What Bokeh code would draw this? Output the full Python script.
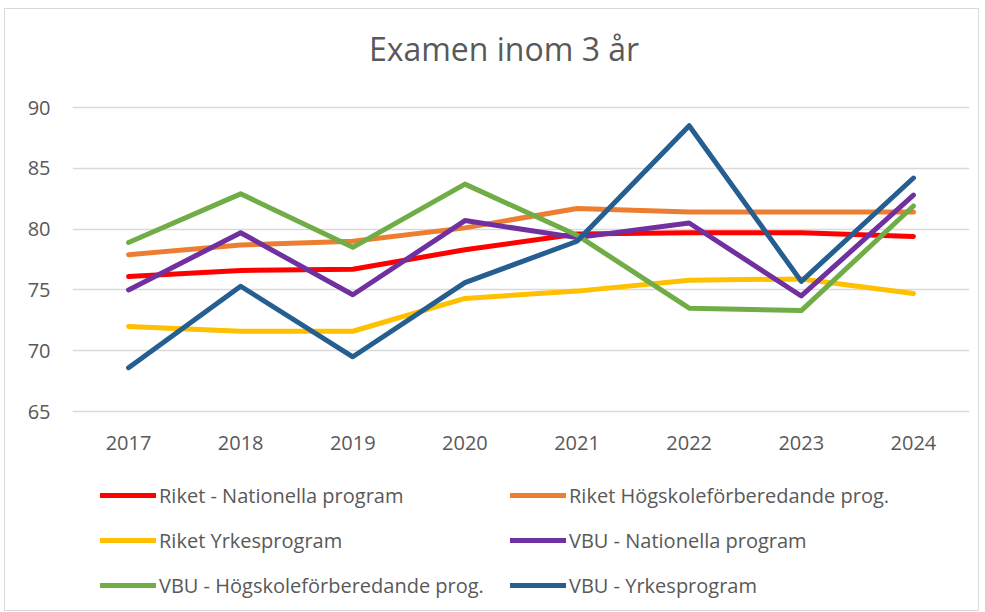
from bokeh.plotting import figure
from bokeh.models import FactorRange, Range1d, FixedTicker, Legend, LegendItem, Label
from bokeh.embed import file_html
from bokeh.resources import INLINE

years = ["2017", "2018", "2019", "2020", "2021", "2022", "2023", "2024"]

riket_nat = [76.1, 76.6, 76.7, 78.3, 79.6, 79.7, 79.7, 79.4]
riket_hog = [77.9, 78.7, 79.0, 80.1, 81.7, 81.4, 81.4, 81.4]
riket_yrk = [72.0, 71.6, 71.6, 74.3, 74.9, 75.8, 75.9, 74.7]
vbu_nat = [75.0, 79.7, 74.6, 80.7, 79.3, 80.5, 74.5, 82.8]
vbu_hog = [78.9, 82.9, 78.5, 83.7, 79.5, 73.5, 73.3, 81.9]
vbu_yrk = [68.6, 75.3, 69.5, 75.6, 79.0, 88.5, 75.7, 84.2]

series_names = [
    "Riket - Nationella program",
    "Riket Högskoleförberedande prog.",
    "Riket Yrkesprogram",
    "VBU - Nationella program",
    "VBU - Högskoleförberedande prog.",
    "VBU - Yrkesprogram",
]
series_values = [riket_nat, riket_hog, riket_yrk, vbu_nat, vbu_hog, vbu_yrk]
series_colors = ["#FF0000", "#ED7D31", "#FFC000", "#7030A0", "#70AD47", "#255E91"]

y_ticks = [65, 70, 75, 80, 85, 90]
title_text = "Examen inom 3 år"

FONT = "Open Sans"
TXT = "#595959"

# layout in pixels: the plot frame fills the figure vertically; the value
# axis 65..90 uses the band from y=98 to y=402, title above, legend below
W, H = 975, 603
AXIS_TOP, AXIS_PX = 98, 304
TITLE_CY = 39
px_per_unit = AXIS_PX / (y_ticks[-1] - y_ticks[0])
y_hi = y_ticks[-1] + AXIS_TOP / px_per_unit
y_lo = y_ticks[0] - (H - AXIS_TOP - AXIS_PX) / px_per_unit
title_y = y_ticks[-1] + (AXIS_TOP - TITLE_CY) / px_per_unit

p = figure(
    width=W, height=H,
    x_range=FactorRange(*years, range_padding=0),
    y_range=Range1d(y_lo, y_hi),
    output_backend="svg", toolbar_location=None,
    min_border_left=67, min_border_right=11, min_border_top=0, min_border_bottom=0,
)
p.styles = {"border": "1px solid #D9D9D9", "margin": "8px 0 0 4px"}

p.outline_line_color = None
p.xgrid.grid_line_color = None
p.ygrid.grid_line_color = "#D9D9D9"
p.ygrid.grid_line_width = 1.5
p.yaxis.ticker = FixedTicker(ticks=y_ticks)
p.xaxis.fixed_location = y_ticks[0]

for ax in (p.xaxis[0], p.yaxis[0]):
    ax.axis_line_color = None
    ax.major_tick_line_color = None
    ax.minor_tick_line_color = None
    ax.major_tick_out = 0
    ax.major_tick_in = 0
    ax.minor_tick_out = 0
    ax.minor_tick_in = 0
    ax.major_label_text_font = FONT
    ax.major_label_text_font_size = "20px"
    ax.major_label_text_color = TXT
p.yaxis.major_label_standoff = 22
p.xaxis.major_label_standoff = 24

title = Label(
    x=len(years) / 2, y=title_y, x_offset=-17,
    text=title_text, text_align="center", text_baseline="middle",
    text_font=FONT, text_font_size="32px", text_color=TXT,
)
p.add_layout(title)

items = []
for name, vals, col in zip(series_names, series_values, series_colors):
    r = p.line(years, vals, line_color=col, line_width=5,
               line_cap="round", line_join="round")
    items.append(LegendItem(label=name, renderers=[r]))

legend = Legend(
    items=items, ncols=2, orientation="horizontal",
    location=(28, 13),
    border_line_color=None, background_fill_alpha=0,
    padding=0, margin=0, spacing=17,
    glyph_width=56, glyph_height=28, label_height=28,
    label_standoff=3, label_width=334,
    label_text_font=FONT, label_text_font_size="20px", label_text_color=TXT,
)
p.add_layout(legend, "center")

open("out.html", "w").write(file_html(p, INLINE))
